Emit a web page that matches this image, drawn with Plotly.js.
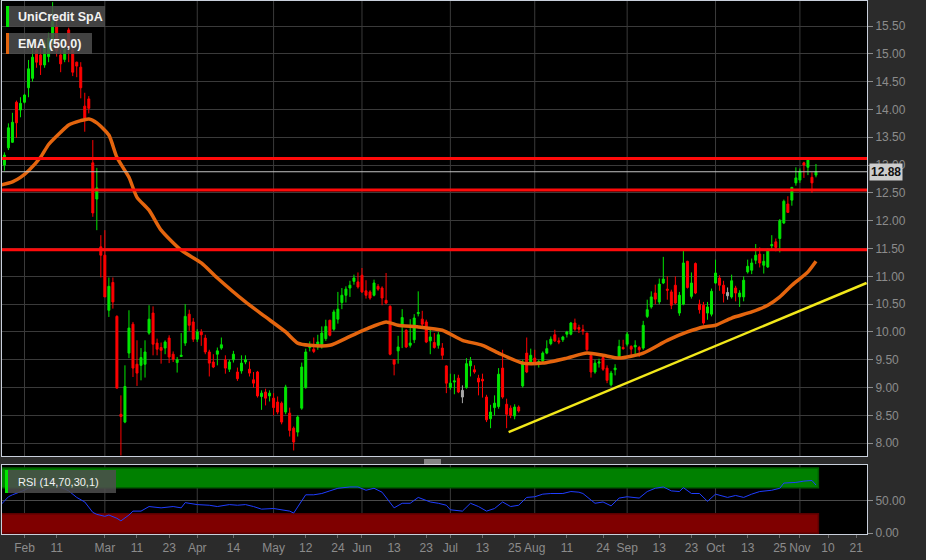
<!DOCTYPE html>
<html><head><meta charset="utf-8">
<script src="https://cdn.plot.ly/plotly-3.0.1.min.js"></script>
<style>html,body{margin:0;padding:0;background:#2b2b2b;}#chart{width:926px;height:560px;}</style>
</head><body><div id="chart"></div>
<script>
// trading-day index of the first candle (0 = 1 Feb)
const startDay = -6;
const open = [
13.32,13.00,13.31,13.41,14.13,13.99,14.13,14.39,14.56,15.07,
14.98,14.80,14.95,15.25,15.50,14.98,14.90,15.43,15.07,14.85,
14.76,14.06,14.19,13.04,12.39,11.53,11.38,10.39,10.89,10.28,
8.52,8.38,9.62,10.14,9.42,9.40,9.42,9.98,10.34,9.80,
9.72,9.71,9.89,9.60,9.45,9.56,9.80,10.32,10.18,9.87,
10.00,9.89,9.64,9.46,9.60,9.71,9.50,9.33,9.50,9.28,
9.30,9.46,9.33,9.14,9.28,8.84,8.92,8.85,8.81,8.74,
8.72,8.56,8.54,8.27,8.20,8.63,9.00,9.72,9.69,9.73,
9.76,9.88,10.21,10.05,10.23,10.53,10.66,10.79,10.91,10.90,
11.02,10.74,10.72,10.66,10.82,10.79,10.57,10.46,9.50,9.66,
10.10,10.03,9.76,9.86,10.33,10.23,10.18,9.84,9.81,9.76,
9.71,9.39,9.00,9.10,9.17,8.95,9.00,9.39,9.32,9.17,
9.15,8.83,8.44,8.64,8.66,9.35,8.70,8.63,8.49,8.65,
9.03,9.62,9.46,9.53,9.44,9.48,9.62,9.79,9.95,9.84,
9.86,9.96,9.96,10.16,10.08,10.04,9.98,9.58,9.28,9.44,
9.54,9.35,9.05,9.32,9.53,9.72,9.78,9.74,9.73,9.72,
9.71,10.28,10.45,10.70,10.54,10.88,10.77,10.72,10.84,10.34,
10.50,11.27,10.64,11.23,10.50,10.48,10.34,10.32,10.88,10.97,
10.84,10.71,10.63,10.79,10.63,10.63,11.08,11.11,11.29,11.40,
11.20,11.17,11.55,11.62,11.68,11.96,12.30,12.37,12.68,12.73,
13.04,12.96,12.78,12.82];
const high = [
13.45,13.23,13.75,13.94,14.16,14.22,14.28,14.89,15.15,15.20,
15.10,15.25,15.38,15.93,15.62,15.07,15.10,15.47,15.12,14.86,
14.85,14.30,14.24,13.45,12.95,11.74,11.83,10.98,10.98,10.30,
8.86,9.40,10.39,10.18,9.85,9.71,9.85,10.48,10.46,9.88,
9.81,9.85,9.94,9.65,9.55,9.98,10.50,10.40,10.25,10.05,
10.05,9.95,9.68,9.60,9.72,9.90,9.58,9.50,9.66,9.36,
9.58,9.58,9.47,9.28,9.30,8.95,8.98,8.95,8.90,8.84,
8.75,9.05,8.64,8.30,8.50,9.45,9.70,9.83,9.90,9.95,
10.10,10.22,10.22,10.40,10.72,10.79,10.82,10.92,11.03,11.07,
11.15,10.93,10.75,10.94,10.86,10.82,11.06,10.48,9.51,9.93,
10.41,10.05,10.23,10.32,10.73,10.38,10.22,10.05,9.98,10.00,
9.80,9.40,9.25,9.24,9.23,9.04,9.53,9.55,9.40,9.23,
9.25,8.87,8.69,8.86,9.35,9.68,8.80,8.68,8.70,8.68,
9.50,9.90,9.70,9.68,9.50,9.65,9.85,9.92,10.04,9.90,
9.93,10.02,10.18,10.24,10.13,10.13,9.98,9.60,9.50,9.52,
9.60,9.40,9.30,9.42,9.86,9.86,10.00,9.76,9.85,9.75,
10.20,10.58,10.73,10.85,10.96,11.35,11.00,10.76,11.00,10.72,
11.46,11.28,11.07,11.25,10.58,10.54,10.54,10.78,11.30,11.02,
10.92,10.80,11.03,10.83,10.75,11.00,11.30,11.32,11.58,11.52,
11.40,11.50,11.74,11.68,12.03,12.38,12.44,12.60,12.96,12.94,
13.06,13.13,12.87,13.02];
const low = [
12.75,12.90,13.27,13.40,13.49,13.86,14.11,14.22,14.50,14.75,
14.62,14.75,14.85,15.15,14.95,14.67,14.85,14.85,14.60,14.58,
14.20,13.60,13.93,12.07,11.83,10.98,10.63,10.27,10.42,8.99,
7.78,8.36,9.53,9.19,9.03,9.13,9.18,9.95,9.58,9.58,
9.43,9.60,9.44,9.46,9.27,9.55,9.75,10.02,9.82,9.82,
9.75,9.60,9.20,9.35,9.40,9.68,9.25,9.28,9.45,9.12,
9.25,9.42,9.20,9.00,8.82,8.60,8.68,8.75,8.50,8.52,
8.34,8.52,8.12,7.87,8.12,8.60,8.98,9.65,9.62,9.68,
9.70,9.84,9.92,10.02,10.15,10.41,10.53,10.63,10.85,10.78,
10.70,10.60,10.58,10.64,10.74,10.48,10.50,9.58,9.22,9.43,
9.71,9.71,9.72,9.80,10.28,10.10,9.80,9.60,9.70,9.70,
9.50,8.90,8.96,8.88,8.90,8.72,8.98,9.20,9.25,8.86,
8.82,8.38,8.27,8.50,8.62,8.80,8.27,8.45,8.43,8.55,
9.00,9.26,9.45,9.42,9.36,9.46,9.60,9.76,9.82,9.78,
9.82,9.90,9.94,10.02,9.98,9.95,9.66,9.18,9.25,9.36,
9.30,9.08,9.02,9.22,9.51,9.68,9.74,9.55,9.60,9.55,
9.68,10.25,10.42,10.50,10.50,10.86,10.58,10.41,10.50,10.29,
10.48,10.78,10.60,10.68,10.33,10.13,10.22,10.28,10.86,10.74,
10.53,10.58,10.60,10.55,10.45,10.55,11.05,11.04,11.22,11.16,
11.05,11.15,11.47,11.45,11.43,11.94,12.14,12.27,12.63,12.68,
12.77,12.82,12.50,12.78];
const close = [
12.86,13.18,13.67,13.77,13.76,14.11,14.26,14.73,14.94,14.85,
14.80,15.19,15.28,15.58,15.05,14.82,15.07,15.10,14.67,14.78,
14.39,13.84,14.02,12.14,12.59,11.38,10.63,10.82,10.54,8.99,
8.48,9.02,10.07,9.35,9.26,9.54,9.64,10.23,9.78,9.69,
9.67,9.82,9.55,9.51,9.50,9.58,10.28,10.12,9.87,10.00,
9.95,9.64,9.44,9.37,9.66,9.77,9.35,9.46,9.60,9.16,
9.44,9.50,9.26,9.08,8.85,8.90,8.81,8.90,8.64,8.56,
8.38,9.01,8.23,8.02,8.47,9.37,9.64,9.77,9.65,9.82,
9.98,10.10,9.94,10.36,10.41,10.66,10.77,10.84,10.97,10.81,
10.72,10.66,10.61,10.88,10.77,10.61,10.52,9.60,9.42,9.73,
10.26,9.73,9.80,10.25,10.35,10.14,9.82,9.91,9.72,9.95,
9.58,9.08,9.08,9.12,8.92,8.83,9.43,9.48,9.28,9.10,
9.12,8.42,8.56,8.72,9.24,8.83,8.52,8.50,8.65,8.58,
9.46,9.28,9.58,9.44,9.47,9.62,9.70,9.87,9.84,9.82,
9.91,10.00,10.16,10.05,10.05,10.02,9.68,9.28,9.44,9.46,
9.33,9.13,9.26,9.35,9.74,9.70,9.96,9.69,9.76,9.68,
10.12,10.40,10.63,10.59,10.86,10.95,10.75,10.48,10.52,10.66,
11.24,10.80,10.88,10.70,10.40,10.16,10.45,10.73,11.06,10.84,
10.69,10.65,10.92,10.70,10.70,10.93,11.18,11.24,11.38,11.24,
11.27,11.47,11.57,11.52,12.00,12.35,12.15,12.60,12.77,12.89,
13.00,13.09,12.68,12.88];
const grayDays = [109, 175];

const levels = [13.12, 12.55, 11.48];
const lastPrice = 12.88;

const emaDay = [-6,-3,-1,1,4,6,9,11,14,16,18,21,23,26,28,31,34,39,44,48,55,60,65,68,71,76,81,85,90,93,98,104,109,114,118,124,129,135,140,144,148,154,160,165,169,172,176,181,185,188,191,195,197];
const emaVal = [12.64,12.70,12.78,12.90,13.14,13.37,13.59,13.72,13.80,13.83,13.76,13.54,13.14,12.78,12.42,12.19,11.83,11.47,11.24,10.97,10.54,10.27,10.00,9.80,9.76,9.76,9.92,10.05,10.18,10.12,10.09,10.03,9.85,9.76,9.62,9.44,9.44,9.53,9.62,9.58,9.53,9.62,9.85,10.00,10.09,10.12,10.25,10.36,10.48,10.63,10.84,11.08,11.27];

const trendDay = [120.5, 209.6];
const trendVal = [8.20, 10.88];

const rsiDay = [-6,-4,-3,0,3,6,9,11,13,15,17,18,20,21,23,24,26,27,29,31,34,37,39,40,43,46,48,51,53,55,57,59,62,64,66,67,70,72,74,76,78,81,83,85,87,89,91,92,94,96,98,101,103,105,106,109,111,113,115,117,119,121,123,125,127,129,131,134,136,138,139,142,144,146,148,150,153,155,157,159,161,163,164,166,168,170,172,175,177,179,181,183,186,188,189,192,194,196,197];
const rsiVal = [43,56,59,66,77,82,71,65,55,48,32,29,26,28,23,19,28,34,34,41,39,41,39,47,44,43,41,44,43,44,41,37,38,36,34,31,59,59,61,65,69,71,71,66,69,63,48,39,46,46,55,48,46,43,36,34,46,41,34,38,48,41,43,55,56,60,61,61,64,63,61,46,48,42,54,56,54,64,69,71,65,64,70,61,61,49,60,55,58,55,60,64,66,69,77,78,80,81,74];
const rsiUpper = 70, rsiLower = 30, rsiMax = 100, rsiMin = 0;

const tickDays = [0,8,20,28,36,43,52,62,70,78,84,92,100,106,114,122,127,135,144,150,158,166,172,180,188,193,200,207];
const tickText = ['Feb','11','Mar','11','23','Apr','14','May','12','24','Jun','13','23','Jul','13','25','Aug','11','24','Sep','13','23','Oct','13','25','Nov','10','21'];
const monthDays = [0,20,43,62,84,106,127,150,172,193];

// ---------- build ----------
const days = open.map((_, i) => startDay + i);
const isGray = days.map(d => grayDays.includes(d));
const pick = (arr, want) => arr.map((v, i) => isGray[i] === want ? v : null);

const GREEN = '#00e600', RED = '#ff0000', GRAY = '#a8a8a8';
const FONT = 'Liberation Sans, Arial, sans-serif';

const traces = [
  {type:'candlestick', x:days, open:pick(open,false), high:pick(high,false), low:pick(low,false), close:pick(close,false),
   xaxis:'x', yaxis:'y', whiskerwidth:0,
   increasing:{line:{color:GREEN,width:1}, fillcolor:GREEN},
   decreasing:{line:{color:RED,width:1}, fillcolor:RED}},
  {type:'candlestick', x:days, open:pick(open,true), high:pick(high,true), low:pick(low,true), close:pick(close,true),
   xaxis:'x', yaxis:'y', whiskerwidth:0,
   increasing:{line:{color:GRAY,width:1}, fillcolor:GRAY},
   decreasing:{line:{color:GRAY,width:1}, fillcolor:GRAY}},
  {type:'scatter', mode:'lines', x:emaDay, y:emaVal, xaxis:'x', yaxis:'y',
   line:{color:'#e4650e', width:3.5, shape:'spline', smoothing:0.6}},
  {type:'scatter', mode:'lines', x:trendDay, y:trendVal, xaxis:'x', yaxis:'y',
   line:{color:'#f2e81a', width:2.5}},
];

const x0 = days[0] - 1, x1 = days[days.length - 1] + 0.6;
traces.push({type:'scatter', mode:'lines', x:[x0,x1,x1,x0,x0], y:[rsiUpper,rsiUpper,rsiMax,rsiMax,rsiUpper],
  xaxis:'x2', yaxis:'y2', fill:'toself', fillcolor:'#008000', line:{color:'#005c00', width:1.5}, hoverinfo:'skip'});
traces.push({type:'scatter', mode:'lines', x:[x0,x1,x1,x0,x0], y:[rsiMin,rsiMin,rsiLower,rsiLower,rsiMin],
  xaxis:'x2', yaxis:'y2', fill:'toself', fillcolor:'#7f0000', line:{color:'#5a0000', width:1.5}, hoverinfo:'skip'});
traces.push({type:'scatter', mode:'lines', x:rsiDay, y:rsiVal, xaxis:'x2', yaxis:'y2',
  line:{color:'#1f3dff', width:1}});

// pixel helpers for decorations
const PX = p => (p - 2) / 865;
const PY = p => (534 - p) / 533;

const shapes = [];
monthDays.forEach(m => {
  shapes.push({type:'line', xref:'x', yref:'y domain', x0:m, x1:m, y0:0, y1:1, layer:'below', line:{color:'#3a3a3a', width:1}});
  shapes.push({type:'line', xref:'x2', yref:'y2 domain', x0:m, x1:m, y0:0, y1:1, layer:'below', line:{color:'#3a3a3a', width:1}});
});
levels.forEach(v => shapes.push({type:'line', xref:'x domain', yref:'y', x0:0, x1:1, y0:v, y1:v, line:{color:'#ff0a0a', width:3}}));
shapes.push({type:'line', xref:'x domain', yref:'y', x0:0, x1:1, y0:lastPrice, y1:lastPrice, line:{color:'#c4c4c4', width:1}});

function legendBox(xl, xr, yt, yb, color) {
  shapes.push({type:'rect', xref:'paper', yref:'paper', x0:PX(xl+3), x1:PX(xr), y0:PY(yb), y1:PY(yt), line:{width:0}, fillcolor:'rgba(78,78,78,0.85)'});
  shapes.push({type:'rect', xref:'paper', yref:'paper', x0:PX(xl), x1:PX(xl+3), y0:PY(yb), y1:PY(yt), line:{width:0}, fillcolor:color});
}
legendBox(6, 105, 6, 27, GREEN);
legendBox(6, 92, 33, 54, '#e4650e');
legendBox(5, 116, 470, 493, GREEN);
// panel divider handle
[460, 462, 464].forEach(py => shapes.push({type:'line', xref:'paper', yref:'paper', x0:PX(424), x1:PX(441), y0:PY(py), y1:PY(py), line:{color:'#e0e0e0', width:1}}));

const legText = (txt, px, py, size, bold) => ({xref:'paper', yref:'paper', x:PX(px), y:PY(py), xanchor:'left', yanchor:'middle',
  text: bold ? '<b>' + txt + '</b>' : txt, showarrow:false, font:{family:FONT, size:size, color:'#f2f2f2'}});

const annotations = [
  legText('UniCredit SpA', 16, 16.5, 12.5, true),
  legText('EMA (50,0)', 16, 43.5, 12.5, true),
  legText('RSI (14,70,30,1)', 16, 482, 11, false),
  {xref:'paper', x:1, xanchor:'left', xshift:2, yref:'y', y:lastPrice, yanchor:'middle', text:'<b>' + lastPrice.toFixed(2) + '</b>',
   showarrow:false, bgcolor:'#cdcdcd', borderpad:1, font:{family:FONT, size:12, color:'#111'}}
];

const axisLine = '#c9d0dc';
const layout = {
  width:926, height:560,
  margin:{l:2, r:59, t:1, b:26},
  paper_bgcolor:'#2b2b2b', plot_bgcolor:'#000000',
  showlegend:false,
  font:{family:FONT, size:12, color:'#8c8c8c'},
  xaxis:{domain:[0,1], anchor:'y', range:[-5.6, 209.7], showticklabels:false, showgrid:false, zeroline:false,
    showline:true, mirror:true, linecolor:axisLine, linewidth:1, ticks:'', rangeslider:{visible:false}, fixedrange:true},
  xaxis2:{domain:[0,1], anchor:'y2', matches:'x', range:[-5.6, 209.7], tickmode:'array', tickvals:tickDays, ticktext:tickText,
    showgrid:false, zeroline:false, showline:true, mirror:true, linecolor:axisLine, linewidth:1,
    ticks:'outside', ticklen:3, tickcolor:'#6a6a6a', tickfont:{family:FONT, size:12, color:'#8c8c8c'}, rangeslider:{visible:false}},
  yaxis:{domain:[PY(456), 1], anchor:'x', range:[7.77, 15.95], side:'right', tick0:0, dtick:0.5, tickformat:'.2f',
    showgrid:true, gridcolor:'#3a3a3a', zeroline:false, showline:true, mirror:true, linecolor:axisLine, linewidth:1,
    ticks:'outside', ticklen:5, tickcolor:'#8c8c8c', tickfont:{family:FONT, size:12, color:'#8c8c8c'}},
  yaxis2:{domain:[0, PY(465)], anchor:'x2', range:[-1.1, 104.7], side:'right', tickmode:'array', tickvals:[0,50], tickformat:'.2f',
    showgrid:true, gridcolor:'#4a4a4a', zeroline:false, showline:true, mirror:true, linecolor:axisLine, linewidth:1,
    ticks:'outside', ticklen:5, tickcolor:'#8c8c8c', tickfont:{family:FONT, size:12, color:'#8c8c8c'}},
  shapes:shapes,
  annotations:annotations
};

Plotly.newPlot('chart', traces, layout, {displayModeBar:false, staticPlot:true});
</script>
</body></html>
